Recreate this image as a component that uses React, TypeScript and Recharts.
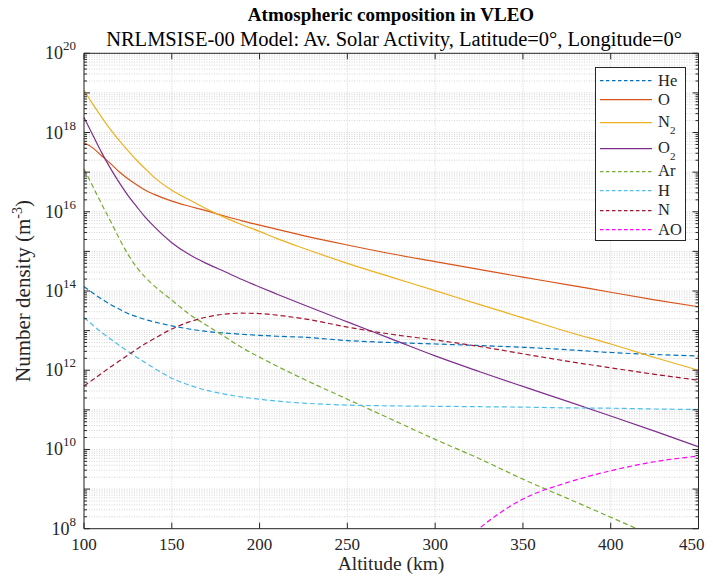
import React from 'react';
import { LineChart, Line, XAxis, YAxis, CartesianGrid, Legend } from 'recharts';

// ---------- data (number density, m^-3) ----------
const altitudes = [100, 105, 110, 115, 120, 125, 130, 135, 140, 150, 160, 170, 180, 190, 200, 210, 225, 250, 275, 300, 325, 350, 375, 400, 425, 450];

const heDensity = [1.29e14, 8.9e13, 6.3e13, 4.6e13, 3.5e13, 2.7e13, 2.24e13, 1.9e13, 1.66e13, 1.32e13, 1.1e13, 9.5e12, 8.7e12, 8.1e12, 7.6e12, 7.2e12, 6.8e12, 5.6e12, 5.0e12, 4.6e12, 4.2e12, 3.8e12, 3.3e12, 2.8e12, 2.5e12, 2.3e12];
const oDensity = [5.5e17, 4.1e17, 2.6e17, 1.66e17, 1.02e17, 6.8e16, 4.8e16, 3.5e16, 2.75e16, 1.86e16, 1.38e16, 1.05e16, 7.8e15, 5.9e15, 4.6e15, 3.6e15, 2.5e15, 1.45e15, 8.7e14, 5.5e14, 3.5e14, 2.24e14, 1.45e14, 9.3e13, 6.0e13, 4.0e13];
const n2Density = [1.17e19, 5.2e18, 2.45e18, 1.2e18, 6.3e17, 3.5e17, 2.0e17, 1.2e17, 7.4e16, 3.5e16, 2.0e16, 1.17e16, 7.2e15, 4.7e15, 3.2e15, 2.1e15, 1.2e15, 5.0e14, 2.24e14, 1.02e14, 4.6e13, 2.1e13, 9.5e12, 4.6e12, 2.1e12, 1.0e12];
const o2Density = [2.4e18, 8.7e17, 3.16e17, 1.26e17, 5.5e16, 2.6e16, 1.35e16, 7.2e15, 4.2e15, 1.66e15, 8.3e14, 4.9e14, 3.1e14, 1.95e14, 1.26e14, 8.3e13, 4.5e13, 1.66e13, 6.2e12, 2.3e12, 9.3e11, 3.9e11, 1.66e11, 7.0e10, 2.9e10, 1.17e10];
const arDensity = [1.2e17, 4.4e16, 1.58e16, 5.9e15, 2.14e15, 8.5e14, 4.0e14, 2.2e14, 1.35e14, 5.9e13, 2.6e13, 1.35e13, 7.1e12, 3.7e12, 2.14e12, 1.26e12, 6.0e11, 1.86e11, 5.8e10, 1.8e10, 5.9e9, 1.78e9, 5.9e8, 1.95e8, 6.3e7, 2.0e7];
const hDensity = [2.14e13, 1.38e13, 9.1e12, 6.2e12, 4.3e12, 3.0e12, 2.14e12, 1.55e12, 1.12e12, 6.3e11, 4.2e11, 3.1e11, 2.5e11, 2.1e11, 1.86e11, 1.66e11, 1.48e11, 1.32e11, 1.26e11, 1.23e11, 1.2e11, 1.17e11, 1.12e11, 1.1e11, 1.05e11, 1.02e11];
const nDensity = [4.0e11, 5.75e11, 8.3e11, 1.2e12, 1.7e12, 2.4e12, 3.4e12, 4.7e12, 6.3e12, 1.1e13, 1.66e13, 2.2e13, 2.6e13, 2.75e13, 2.7e13, 2.45e13, 2.0e13, 1.23e13, 8.1e12, 5.8e12, 4.0e12, 2.6e12, 1.7e12, 1.15e12, 7.9e11, 5.6e11];
const aoDensity = [null, null, null, null, null, null, null, null, null, null, null, null, null, null, null, null, null, null, null, 8e6, 1.0e8, 5.6e8, 1.45e9, 2.9e9, 4.9e9, 6.8e9];

const xTicks = [100, 150, 200, 250, 300, 350, 400, 450];
const yExponents = [8, 9, 10, 11, 12, 13, 14, 15, 16, 17, 18, 19, 20];
const yLabelExponents = [8, 10, 12, 14, 16, 18, 20];

// ---------- styling ----------
const FONT = "'Liberation Serif', 'DejaVu Serif', serif";
const AXIS_COLOR = '#262626';

const series = [
  { key: 'He', name: 'He', sub: '', values: heDensity, color: '#0072BD', dash: '5 3' },
  { key: 'O', name: 'O', sub: '', values: oDensity, color: '#D95319', dash: '' },
  { key: 'N2', name: 'N', sub: '2', values: n2Density, color: '#EDB120', dash: '' },
  { key: 'O2', name: 'O', sub: '2', values: o2Density, color: '#7E2F8E', dash: '' },
  { key: 'Ar', name: 'Ar', sub: '', values: arDensity, color: '#77AC30', dash: '5 3' },
  { key: 'H', name: 'H', sub: '', values: hDensity, color: '#4DBEEE', dash: '5 3' },
  { key: 'N', name: 'N', sub: '', values: nDensity, color: '#A2142F', dash: '5 3' },
  { key: 'AO', name: 'AO', sub: '', values: aoDensity, color: '#FF00FF', dash: '5 3' },
];

const data = altitudes.map((alt, i) => {
  const row: Record<string, number | null> = { alt };
  series.forEach((s) => {
    row[s.key] = s.values[i];
  });
  return row;
});

// decade ticks + minor ticks (2..9 x 10^e)
const majorValues = yExponents.map((e) => Math.pow(10, e));
const minorValues: number[] = [];
yExponents.slice(0, -1).forEach((e) => {
  for (let m = 2; m <= 9; m++) minorValues.push(m * Math.pow(10, e));
});
const allYTicks = [...majorValues, ...minorValues].sort((a, b) => a - b);

const exponentOf = (v: number) => Math.round(Math.log10(v));
const isMajor = (v: number) => {
  const e = exponentOf(v);
  return Math.abs(v - Math.pow(10, e)) < 1e-6 * v;
};

const LeftTick = (props: any) => {
  const { x, y, payload } = props;
  const v = payload.value;
  const major = isMajor(v);
  const e = exponentOf(v);
  return (
    <g>
      <line x1={x} y1={y} x2={x + (major ? 6 : 3)} y2={y} stroke={AXIS_COLOR} strokeWidth={1} />
      {major && yLabelExponents.includes(e) && (
        <text x={x - 8} y={y + 6} textAnchor="end" fontFamily={FONT} fontSize={18} fill={AXIS_COLOR}>
          10
          <tspan dy={-9} fontSize={13}>
            {e}
          </tspan>
        </text>
      )}
    </g>
  );
};

const RightTick = (props: any) => {
  const { x, y, payload } = props;
  const major = isMajor(payload.value);
  return <line x1={x} y1={y} x2={x - (major ? 6 : 3)} y2={y} stroke={AXIS_COLOR} strokeWidth={1} />;
};

const BottomTick = (props: any) => {
  const { x, y, payload } = props;
  const isLast = payload.value === xTicks[xTicks.length - 1];
  return (
    <g>
      <line x1={x} y1={y} x2={x} y2={y - 6} stroke={AXIS_COLOR} strokeWidth={1} />
      <text
        x={isLast ? x + 6 : x}
        y={y + 21}
        textAnchor={isLast ? 'end' : 'middle'}
        fontFamily={FONT}
        fontSize={17}
        fill={AXIS_COLOR}
      >
        {payload.value}
      </text>
    </g>
  );
};

const TopTick = (props: any) => {
  const { x, y } = props;
  return <line x1={x} y1={y} x2={x} y2={y + 6} stroke={AXIS_COLOR} strokeWidth={1} />;
};

const LegendBox = () => (
  <div
    style={{
      boxSizing: 'border-box',
      width: 91,
      height: 174,
      border: `1px solid ${AXIS_COLOR}`,
      background: '#fff',
      paddingTop: 3,
      fontFamily: FONT,
      color: AXIS_COLOR,
    }}
  >
    {series.map((s) => {
      const h = s.sub ? 26 : 19.4;
      const ly = s.sub ? 12.6 : 9.7;
      return (
        <div key={s.key} style={{ position: 'relative', height: h }}>
          <svg width={56} height={h} style={{ position: 'absolute', left: 0, top: 0 }}>
            <line x1={4} x2={56} y1={ly} y2={ly} stroke={s.color} strokeWidth={1.3} strokeDasharray={s.dash ? '3.5 2.5' : undefined} />
          </svg>
          <div
            style={{
              position: 'absolute',
              left: 62,
              top: ly - 10,
              fontSize: 16.5,
              lineHeight: '20px',
              whiteSpace: 'nowrap',
            }}
          >
            {s.name}
            {s.sub && <span style={{ fontSize: 11, position: 'relative', top: 7 }}>{s.sub}</span>}
          </div>
        </div>
      );
    })}
  </div>
);

export default function App() {
  const W = 697;
  const H = 567;
  return (
    <div style={{ position: 'relative', width: W, height: H, fontFamily: FONT }}>
      <style>{`.recharts-surface { overflow: visible; } .recharts-wrapper { overflow: visible; }`}</style>
      <LineChart
        width={W}
        height={H}
        data={data}
        margin={{ top: 44.3, right: 5.5, bottom: 16.3, left: 16 }}
      >
        <CartesianGrid stroke="#c9c9c9" strokeDasharray="1 1.5" strokeWidth={0.8} />
        <XAxis
          dataKey="alt"
          type="number"
          domain={[100, 450]}
          ticks={xTicks}
          interval={0}
          height={30}
          tickSize={0}
          tickMargin={0}
          tickLine={false}
          tick={<BottomTick />}
          axisLine={{ stroke: AXIS_COLOR }}
        />
        <XAxis
          xAxisId="top"
          orientation="top"
          dataKey="alt"
          type="number"
          domain={[100, 450]}
          ticks={xTicks}
          interval={0}
          height={1}
          tickSize={0}
          tickMargin={0}
          tickLine={false}
          tick={<TopTick />}
          axisLine={{ stroke: AXIS_COLOR }}
        />
        <YAxis
          scale="log"
          domain={[1e8, 1e20]}
          allowDataOverflow
          ticks={allYTicks}
          interval={0}
          width={60}
          tickSize={0}
          tickMargin={0}
          tickLine={false}
          tick={<LeftTick />}
          axisLine={{ stroke: AXIS_COLOR }}
        />
        <YAxis
          yAxisId="right"
          orientation="right"
          scale="log"
          domain={[1e8, 1e20]}
          allowDataOverflow
          ticks={allYTicks}
          interval={0}
          width={1}
          tickSize={0}
          tickMargin={0}
          tickLine={false}
          tick={<RightTick />}
          axisLine={{ stroke: AXIS_COLOR }}
        />
        {series.map((s) => (
          <Line
            key={s.key}
            dataKey={s.key}
            name={s.key}
            type="monotone"
            stroke={s.color}
            strokeWidth={1.2}
            strokeDasharray={s.dash || undefined}
            dot={false}
            activeDot={false}
            connectNulls={false}
            isAnimationActive={false}
          />
        ))}
        <Legend
          layout="vertical"
          align="center"
          verticalAlign="middle"
          wrapperStyle={{ position: 'absolute', left: 587, top: 59, width: 91 }}
          content={() => <LegendBox />}
        />
      </LineChart>
      <svg
        width={W}
        height={H}
        style={{ position: 'absolute', left: 0, top: 0, pointerEvents: 'none', overflow: 'visible' }}
      >
        <text x={383} y={13} textAnchor="middle" fontFamily={FONT} fontWeight="bold" fontSize={19} fill="#000">
          Atmospheric composition in VLEO
        </text>
        <text x={386} y={38} textAnchor="middle" fontFamily={FONT} fontSize={20.5} fill="#000">
          NRLMSISE-00 Model: Av. Solar Activity, Latitude=0°, Longitude=0°
        </text>
        <text x={383} y={562} textAnchor="middle" fontFamily={FONT} fontSize={19.5} fill={AXIS_COLOR}>
          Altitude (km)
        </text>
        <text
          transform="translate(22, 283) rotate(-90)"
          textAnchor="middle"
          fontFamily={FONT}
          fontSize={21}
          fill={AXIS_COLOR}
        >
          Number density (m
          <tspan dy={-8} fontSize={14}>
            -3
          </tspan>
          <tspan dy={8}>)</tspan>
        </text>
      </svg>
    </div>
  );
}
